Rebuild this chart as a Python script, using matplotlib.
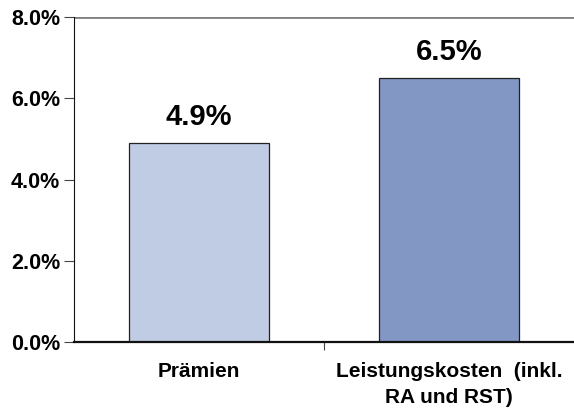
import matplotlib
matplotlib.use("Agg")
import matplotlib.pyplot as plt
import numpy as np

categories = ["Prämien", "Leistungskosten  (inkl.\nRA und RST)"]
values = [4.9, 6.5]
value_labels = ["4.9%", "6.5%"]
bar_colors = ["#C0CCE4", "#8397C5"]
y_ticks = [0, 2, 4, 6, 8]

plt.rcParams["font.family"] = ["Liberation Sans", "DejaVu Sans"]
plt.rcParams["font.weight"] = "bold"

fig = plt.figure(figsize=(5.74, 4.08), dpi=100)
ax = fig.add_axes([74 / 574, 1 - 342 / 408, 500 / 574, 325 / 408])

x = np.arange(len(categories))
bars = ax.bar(x, values, width=0.56, color=bar_colors, edgecolor="#222222", linewidth=0.9)

for rect, lab in zip(bars, value_labels):
    ax.text(rect.get_x() + rect.get_width() / 2, rect.get_height() + 0.3, lab,
            ha="center", va="bottom", fontsize=21, fontweight="bold")

ax.set_xlim(-0.5, 1.5)
ax.set_ylim(0, 8)
ax.set_yticks(y_ticks)
ax.set_yticklabels(["%.1f%%" % v for v in y_ticks], fontsize=15.5, fontweight="bold")
ax.axhline(8, color="#808080", linewidth=2)

# category boundary tick on x axis
ax.set_xticks([0.5])
ax.set_xticklabels([""])
ax.tick_params(axis="x", length=6, width=0.8, color="#444444", direction="out")
ax.tick_params(axis="y", length=7, width=0.8, color="#444444", direction="out", pad=3)
for i, cat in enumerate(categories):
    ax.text(i, -0.5, cat, ha="center", va="top", fontsize=15, fontweight="bold",
            linespacing=1.45, transform=ax.transData)

for s in ["top", "right"]:
    ax.spines[s].set_visible(False)
ax.spines["left"].set_color("#111111")
ax.spines["bottom"].set_color("#111111")
ax.spines["bottom"].set_linewidth(1.6)

fig.savefig("out.png", dpi=100)
